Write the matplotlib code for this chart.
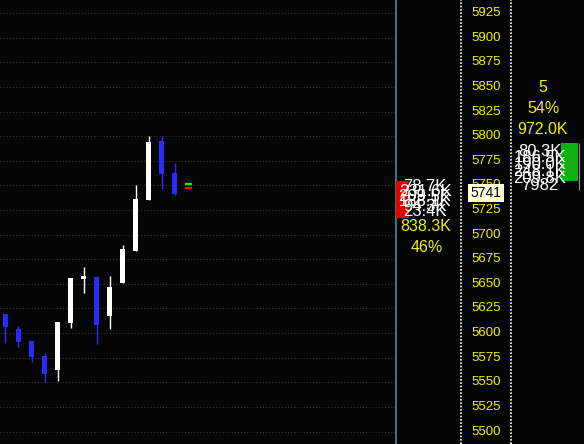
import matplotlib
matplotlib.use("Agg")
import matplotlib.pyplot as plt
from matplotlib.patches import Rectangle

# candle data
opens = [5619, 5604, 5592, 5577, 5562, 5610, 5655, 5657, 5617, 5651, 5683, 5735, 5795, 5763]
highs = [5619, 5607, 5592, 5580, 5611, 5656, 5667, 5657, 5658, 5690, 5750, 5800, 5800, 5773]
lows = [5590, 5586, 5571, 5550, 5551, 5605, 5641, 5589, 5604, 5651, 5683, 5735, 5746, 5740]
closes = [5606, 5591, 5576, 5558, 5611, 5656, 5658, 5608, 5647, 5685, 5736, 5794, 5762, 5741]

price_ticks = list(range(5500, 5926, 25))
last_price = 5741
ask_price = 5751.5
bid_price = 5747.5

# volume panel
sell_volume = "838.3K"
sell_pct = "46%"
buy_volume = "972.0K"
buy_pct = "54%"
buy_count = "5"
sell_range = (5717, 5755)
buy_range = (5755, 5793)
sell_labels = ["78.7K", "231.6K", "209.5K", "188.1K", "94.3K", "23.4K"]
sell_label_prices = [5749, 5744, 5739, 5734, 5729, 5724]
buy_labels = ["80.3K", "186.5K", "190.0K", "248.1K", "209.8K", "7982"]
buy_label_prices = [5785, 5778, 5771, 5764, 5757, 5750]

BG = "#050505"
YELLOW = "#f0f000"
W, H = 584, 444
y_top, y_bot = 5938.5, 5487.3

fig = plt.figure(figsize=(W / 100, H / 100), dpi=100, facecolor=BG)
plt.rcParams['font.family'] = ['Liberation Sans', 'DejaVu Sans']

# --- candles ---
ax = fig.add_axes([0, 0, 395 / W, 1])
ax.set_facecolor(BG)
ax.set_xlim(-0.423, 29.96)
ax.set_ylim(y_bot, y_top)
ax.axis("off")

for p in price_ticks:
    ax.axhline(p, color="#4a3030", lw=0.75, ls=(0, (1, 2)), zorder=1)

bw = 0.36
for i, (o, h, l, c) in enumerate(zip(opens, highs, lows, closes)):
    col = "#ffffff" if c >= o else "#2a2aff"
    ax.vlines(i, l, h, color=col, lw=1.0, zorder=2)
    ax.add_patch(Rectangle((i - bw / 2, min(o, c)), bw, abs(c - o),
                           facecolor=col, edgecolor="none", zorder=3))

n = len(opens)
ax.hlines(ask_price, n - 0.22, n + 0.32, color="#00ff00", lw=1.6, zorder=3)
ax.hlines(bid_price, n - 0.22, n + 0.32, color="#ff0000", lw=1.6, zorder=3)

# --- right side: volume panel and price scale ---
ax2 = fig.add_axes([395 / W, 0, 1 - 395 / W, 1])
ax2.set_facecolor(BG)
ax2.set_xlim(0, W - 395)
ax2.set_ylim(y_bot, y_top)
ax2.axis("off")

ax2.axvline(0.5, color="#4a8c8c", lw=1.2)
ax2.axvline(66, color="white", lw=1.2, ls=(0, (1, 1)))
ax2.axvline(116, color="white", lw=1.2, ls=(0, (1, 1)))

for p in price_ticks:
    ax2.text(91, p, str(p), color=YELLOW, fontsize=9.5, ha="center", va="center")
ax2.text(91, last_price + 1, str(last_price), color="black", fontsize=10, ha="center",
         va="center", zorder=5,
         bbox=dict(boxstyle="square,pad=0.15", facecolor="#ffffe0", edgecolor="none"))

# sell side
ax2.add_patch(Rectangle((1, sell_range[0]), 13, sell_range[1] - sell_range[0],
                        facecolor="#e00000", edgecolor="none", zorder=2))
for s, yy in zip(sell_labels, sell_label_prices):
    ax2.text(30, yy, s, color="white", fontsize=12, ha="center", va="center", zorder=3)
ax2.text(31, 5708, sell_volume, color=YELLOW, fontsize=11.5, ha="center", va="center")
ax2.text(32, 5687, sell_pct, color=YELLOW, fontsize=11.5, ha="center", va="center")

# buy side
ax2.add_patch(Rectangle((166, buy_range[0]), 17, buy_range[1] - buy_range[0],
                        facecolor="#10b010", edgecolor="none", zorder=2))
ax2.vlines(184, 5745, 5793, color="#909090", lw=0.8)
for s, yy in zip(buy_labels, buy_label_prices):
    ax2.text(145, yy, s, color="white", fontsize=12, ha="center", va="center", zorder=3)
ax2.text(148, 5850, buy_count, color=YELLOW, fontsize=11.5, ha="center", va="center")
ax2.text(148, 5828, buy_pct, color=YELLOW, fontsize=11.5, ha="center", va="center")
ax2.text(148, 5807, buy_volume, color=YELLOW, fontsize=11.5, ha="center", va="center")

fig.savefig("out.png", dpi=100, facecolor=BG)
